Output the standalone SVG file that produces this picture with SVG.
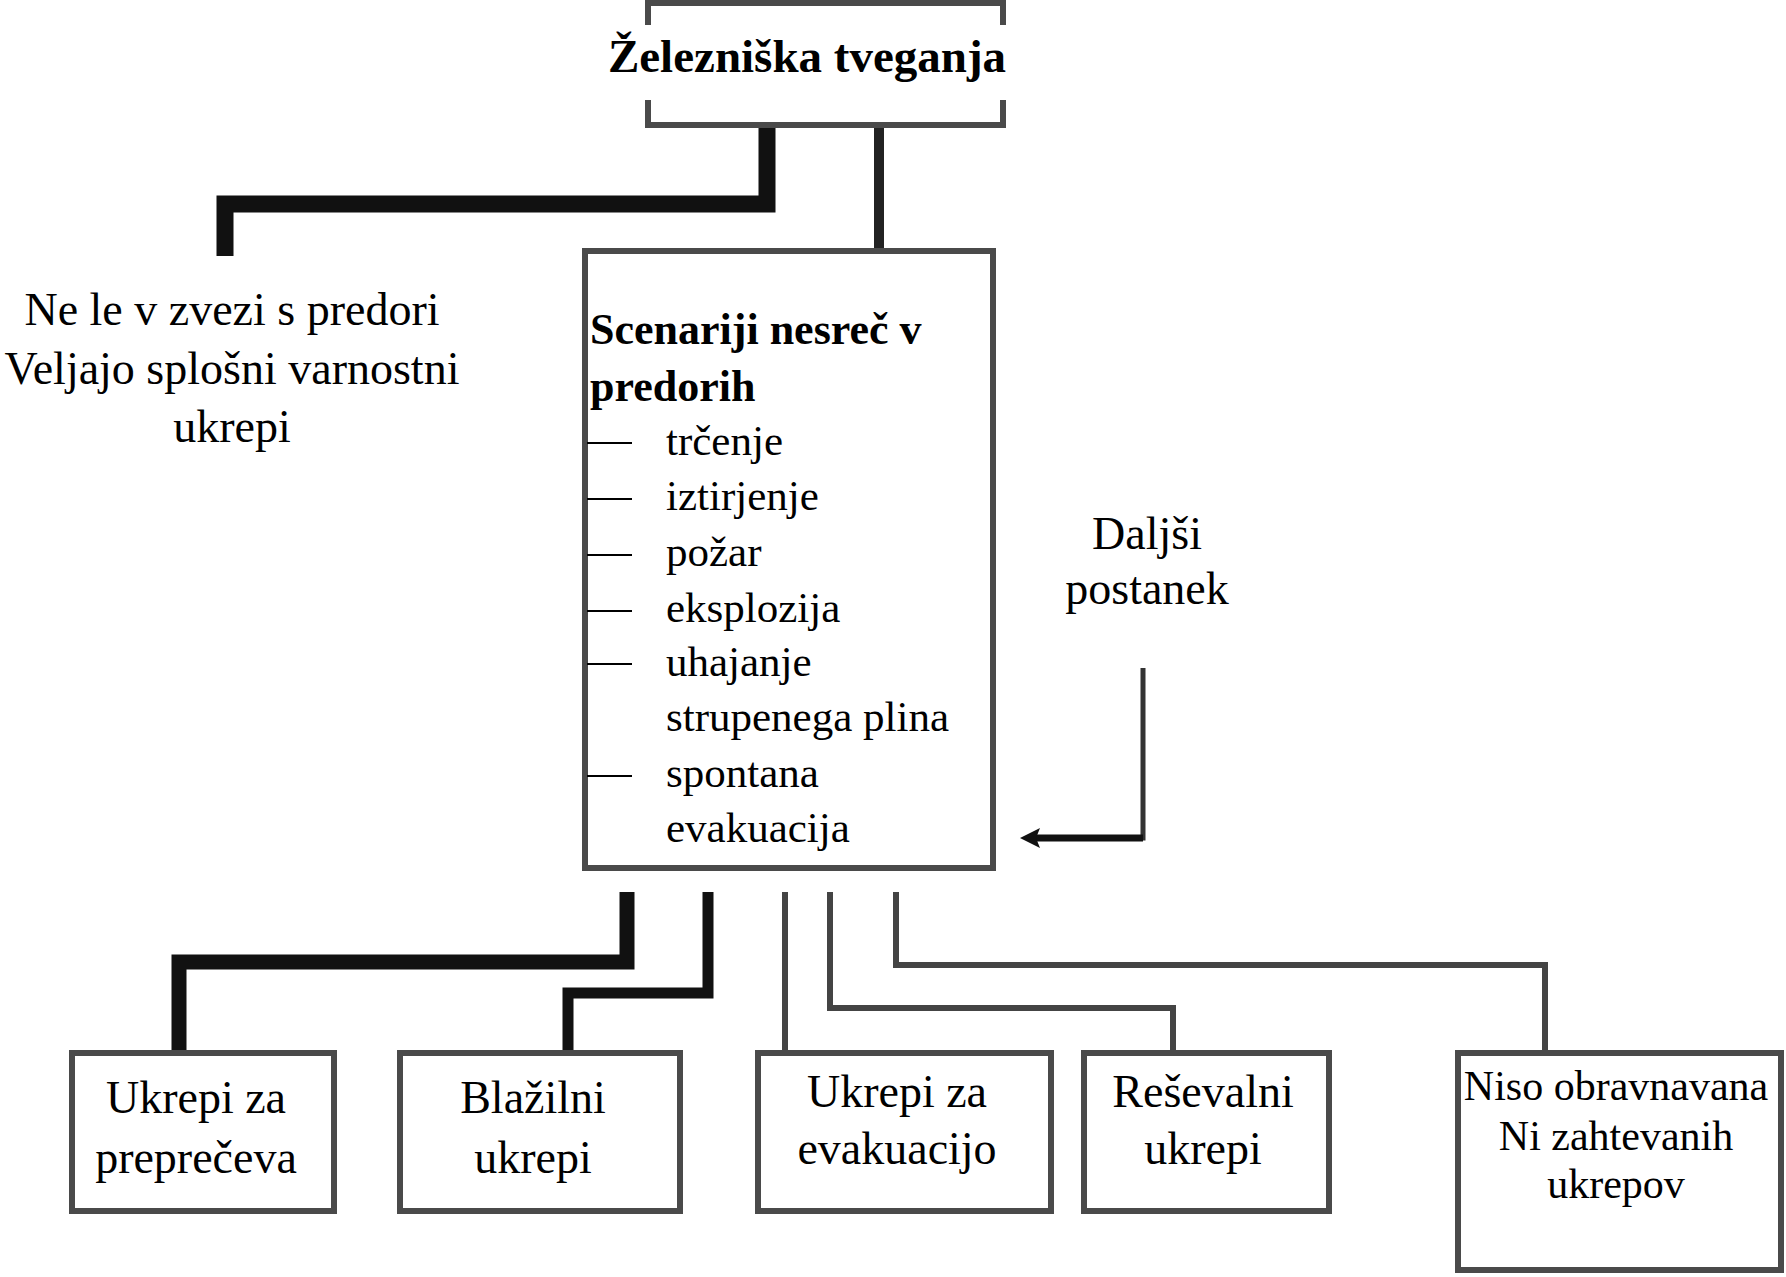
<svg xmlns="http://www.w3.org/2000/svg" width="1786" height="1277" viewBox="0 0 1786 1277">
<style>
.box{fill:#fff;stroke:#4a4a4a;stroke-width:6}
.t{font-family:"Liberation Serif","Times New Roman",serif;fill:#000}
.c{text-anchor:middle}
.b{font-weight:bold}
.ln{fill:none;stroke-linejoin:miter;stroke-linecap:butt}
</style>
<rect width="1786" height="1277" fill="#fff"/>
<g id="connectors">
<path class="ln" d="M767,125 V204 H225 V256" stroke="#111" stroke-width="17"/>
<path class="ln" d="M879,125 V250" stroke="#222" stroke-width="10"/>
<path class="ln" d="M627,892 V962 H179 V1050" stroke="#111" stroke-width="15"/>
<path class="ln" d="M708,892 V993 H568 V1050" stroke="#111" stroke-width="11"/>
<path class="ln" d="M785,892 V1050" stroke="#444" stroke-width="6"/>
<path class="ln" d="M830,892 V1008 H1173 V1050" stroke="#444" stroke-width="6"/>
<path class="ln" d="M896,892 V965 H1545 V1050" stroke="#444" stroke-width="6"/>
<path class="ln" d="M1143,668 V838 H1036" stroke="#333" stroke-width="5"/>
<path class="ln" d="M1143,838 H1036" stroke="#111" stroke-width="7"/>
<polygon points="1020,838 1040,828 1036,838 1040,848" fill="#111"/>
</g>
<g id="node-top">
<path class="ln" d="M648,25 V3 H1003 V25 M648,100 V125 H1003 V100" stroke="#4a4a4a" stroke-width="6"/>
<text class="t b c" x="807" y="72" font-size="47">Železniška tveganja</text>
</g>
<g id="node-left">
<text class="t c" x="232" y="325" font-size="46">Ne le v zvezi s predori</text>
<text class="t c" x="232" y="384" font-size="46">Veljajo splošni varnostni</text>
<text class="t c" x="232" y="442" font-size="46">ukrepi</text>
</g>
<g id="node-scenarios">
<rect class="box" x="585" y="251" width="408" height="617"/>
<text class="t b" x="590" y="344" font-size="44">Scenariji nesreč v</text>
<text class="t b" x="590" y="401" font-size="44">predorih</text>
<g stroke="#000" stroke-width="2">
<line x1="587" y1="443" x2="632" y2="443"/>
<line x1="587" y1="499" x2="632" y2="499"/>
<line x1="587" y1="555" x2="632" y2="555"/>
<line x1="587" y1="611" x2="632" y2="611"/>
<line x1="587" y1="664" x2="632" y2="664"/>
<line x1="587" y1="776" x2="632" y2="776"/>
</g>
<g class="t" font-size="43">
<text x="666" y="455">trčenje</text>
<text x="666" y="510">iztirjenje</text>
<text x="666" y="566">požar</text>
<text x="666" y="622">eksplozija</text>
<text x="666" y="676">uhajanje</text>
<text x="666" y="731">strupenega plina</text>
<text x="666" y="787">spontana</text>
<text x="666" y="842">evakuacija</text>
</g>
</g>
<g id="node-delay">
<text class="t c" x="1147" y="549" font-size="46">Daljši</text>
<text class="t c" x="1147" y="604" font-size="46">postanek</text>
</g>
<g id="node-prevent">
<rect class="box" x="72" y="1053" width="262" height="158"/>
<text class="t c" x="196" y="1113" font-size="46">Ukrepi za</text>
<text class="t c" x="196" y="1173" font-size="46">preprečeva</text>
</g>
<g id="node-mitigate">
<rect class="box" x="400" y="1053" width="280" height="158"/>
<text class="t c" x="533" y="1113" font-size="46">Blažilni</text>
<text class="t c" x="533" y="1173" font-size="46">ukrepi</text>
</g>
<g id="node-evac">
<rect class="box" x="758" y="1053" width="293" height="158"/>
<text class="t c" x="897" y="1107" font-size="46">Ukrepi za</text>
<text class="t c" x="897" y="1164" font-size="46">evakuacijo</text>
</g>
<g id="node-rescue">
<rect class="box" x="1084" y="1053" width="245" height="158"/>
<text class="t c" x="1203" y="1107" font-size="46">Reševalni</text>
<text class="t c" x="1203" y="1164" font-size="46">ukrepi</text>
</g>
<g id="node-none">
<rect class="box" x="1458" y="1053" width="323" height="217"/>
<text class="t c" x="1616" y="1100" font-size="42">Niso obravnavana</text>
<text class="t c" x="1616" y="1150" font-size="42">Ni zahtevanih</text>
<text class="t c" x="1616" y="1198" font-size="42">ukrepov</text>
</g>
</svg>
